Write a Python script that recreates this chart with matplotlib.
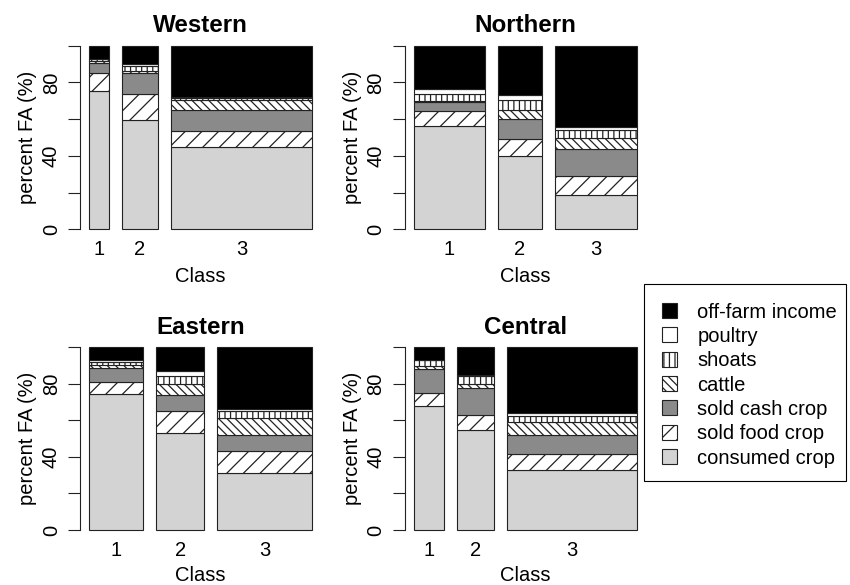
import matplotlib
matplotlib.use("Agg")
import matplotlib.pyplot as plt
from matplotlib.patches import Patch, Rectangle
import numpy as np

plt.rcParams['font.family'] = ['Liberation Sans', 'DejaVu Sans']
plt.rcParams['hatch.linewidth'] = 0.9

classes = ["1", "2", "3"]
regions = ["Western", "Northern", "Eastern", "Central"]
components = ["consumed crop", "sold food crop", "sold cash crop", "cattle",
              "shoats", "poultry", "off-farm income"]

# class share (bar width) per region
widths_western = [0.098, 0.184, 0.718]
widths_northern = [0.362, 0.221, 0.417]
widths_eastern = [0.274, 0.245, 0.481]
widths_central = [0.152, 0.188, 0.660]

# percent FA by component (rows: components bottom->top, cols: class 1..3)
western = [
    [75.5, 59.5, 44.6],
    [9.8, 14.0, 8.9],
    [5.1, 11.8, 11.3],
    [1.1, 1.1, 5.4],
    [1.1, 2.7, 1.1],
    [0.4, 0.7, 0.7],
    [7.0, 10.2, 28.0],
]
northern = [
    [56.3, 39.7, 18.7],
    [8.3, 9.7, 10.3],
    [4.5, 10.9, 14.6],
    [0.8, 4.7, 5.9],
    [3.6, 5.4, 4.6],
    [2.7, 2.6, 1.4],
    [23.8, 27.0, 44.5],
]
eastern = [
    [74.3, 52.9, 31.2],
    [6.9, 12.3, 12.3],
    [7.6, 8.7, 8.7],
    [1.4, 5.8, 9.0],
    [1.8, 4.5, 3.7],
    [0.9, 2.8, 1.4],
    [7.1, 13.0, 33.7],
]
central = [
    [67.6, 54.7, 33.0],
    [7.2, 8.3, 8.7],
    [13.1, 14.9, 10.5],
    [1.8, 1.8, 6.7],
    [3.1, 4.5, 3.6],
    [0.5, 0.6, 1.4],
    [6.7, 15.2, 36.1],
]

fills = ["#d3d3d3", "white", "#8a8a8a", "white", "white", "white", "black"]
hatches = [None, "//", None, "\\\\\\\\", "|||", None, None]
edge = "#222222"

W, H = 850, 585
fig = plt.figure(figsize=(W / 100, H / 100), dpi=100)


def add_ax(left, right, top, bottom):
    return fig.add_axes([left / W, 1 - bottom / H, (right - left) / W, (bottom - top) / H])


panels = [
    ("Western", western, widths_western, (80.4, 320.9, 38.4, 236.6), 5.5),
    ("Northern", northern, widths_northern, (405.0, 645.5, 38.4, 236.6), 5.5),
    ("Eastern", eastern, widths_eastern, (80.4, 320.9, 340.0, 537.3), 4.0),
    ("Central", central, widths_central, (405.0, 645.5, 340.0, 537.3), 4.0),
]

fs = 14.5
for name, data, widths, box, xlpad in panels:
    ax = add_ax(*box)
    w = np.array(widths)
    space = 0.2 * w.mean()
    right = np.cumsum(space + w)
    centers = right - w / 2
    lefts = right - w
    span = right[-1] - lefts[0]
    bottom = np.zeros(3)
    for k, vals in enumerate(data):
        ax.bar(centers, vals, width=w, bottom=bottom, color=fills[k],
               edgecolor=edge, linewidth=0.8, hatch=hatches[k])
        bottom = bottom + np.array(vals)
    ax.set_xlim(lefts[0] - 0.04 * span, right[-1] + 0.04 * span)
    ax.set_ylim(-4, 104)
    for s in ["top", "right", "bottom"]:
        ax.spines[s].set_visible(False)
    ax.spines["left"].set_bounds(0, 100)
    ax.spines["left"].set_linewidth(0.8)
    ax.spines["left"].set_color("#222222")
    ax.set_yticks([0, 20, 40, 60, 80, 100])
    ax.set_yticklabels(["0", "", "40", "", "80", ""])
    ax.tick_params(axis="y", length=8.6, width=0.8, pad=5.5, labelsize=fs,
                   labelrotation=90, color="#222222")
    for lab in ax.get_yticklabels():
        lab.set_va("center")
    ax.set_xticks(centers)
    ax.set_xticklabels(classes)
    ax.tick_params(axis="x", length=0, pad=2.8, labelsize=fs)
    ax.set_xlabel("Class", fontsize=fs, labelpad=xlpad)
    ax.set_ylabel("percent FA (%)", fontsize=fs, labelpad=3.5)
    ax.set_title(name, fontsize=fs * 1.2, fontweight="bold", pad=4.5)

handles = [Patch(facecolor=fills[k], edgecolor=edge, hatch=hatches[k], linewidth=0.8,
                 label=components[k]) for k in range(6, -1, -1)]
leg = fig.legend(handles=handles, loc="upper left",
                 bbox_to_anchor=(662 / W, 1 - 302.5 / H), bbox_transform=fig.transFigure,
                 borderaxespad=0, fontsize=fs, frameon=False,
                 handlelength=0.75, handleheight=0.75,
                 labelspacing=0.265, handletextpad=1.0, borderpad=0)
fig.patches.append(Rectangle((644 / W, 1 - 481 / H), (846 - 644) / W, (481 - 284) / H,
                             transform=fig.transFigure, facecolor="none",
                             edgecolor="black", linewidth=0.8, zorder=0))

fig.savefig("out.png", dpi=100)
